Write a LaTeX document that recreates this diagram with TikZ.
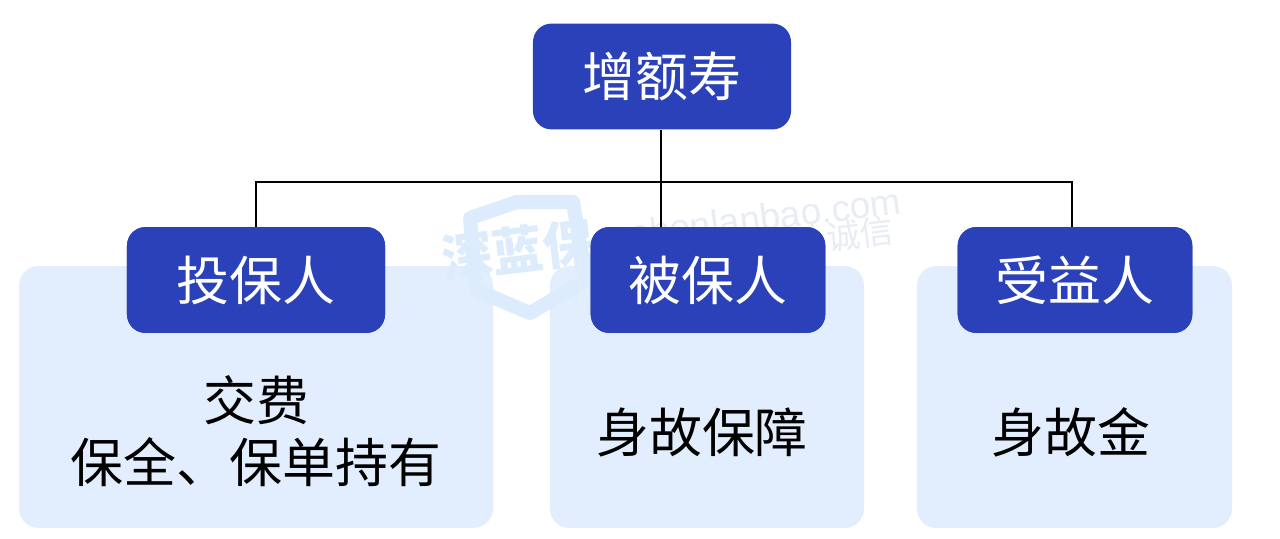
\documentclass[tikz,border=0pt]{standalone}
\usepackage{fontspec}
\setmainfont{Liberation Sans}
\newfontfamily\cjk{Noto Sans CJK SC}
\newfontfamily\cjkbold{Noto Sans CJK SC Medium}
\definecolor{roleblue}{HTML}{2A41B9}
\definecolor{panelblue}{HTML}{E2EEFD}
\definecolor{markblue}{HTML}{DCECFD}
\definecolor{markgray}{HTML}{E8ECF3}
\tikzset{
    rolebox/.style={fill=roleblue, rounded corners=10.5pt, text=white, font=\cjk\fontsize{30}{36}\selectfont, inner sep=0pt, minimum height=60pt},
    panel/.style={fill=panelblue, rounded corners=11pt, inner sep=0pt, minimum height=148.5pt},
    paneltext/.style={align=center, font=\cjk\fontsize{30}{35}\selectfont, text=black},
    link/.style={draw=black, line width=1.5pt},
    markshield/.style={draw=markblue, line width=8pt, line join=round},
    marktext/.style={rotate=7, text=markgray, inner sep=0pt}
}
\begin{document}
\begin{tikzpicture}[x=0.5669pt, y=-0.5669pt]
    \useasboundingbox (0, 0) rectangle (1280, 538);
    \fill[white] (0, 0) rectangle (1280, 538);
    % panels
    \node[panel, minimum width=268.7pt] (PanelA) at (256, 397) {};
    \node[panel, minimum width=178pt] (PanelB) at (707, 397) {};
    \node[panel, minimum width=178.6pt] (PanelC) at (1074.5, 397) {};
    % watermark
    \draw[markshield] (470, 218) -- (517, 202) -- (573, 202) -- (586, 280) -- (530, 313) -- (476, 290) -- cycle;
    \node[marktext, font=\cjk\bfseries\fontsize{29}{29}\selectfont, text=markblue] (MarkLogo) at (518, 250) {深蓝保};
    \node[marktext, font=\fontsize{21}{21}\selectfont] (MarkSite) at (766, 217) {shenlanbao.com};
    \node[marktext, font=\cjk\fontsize{19}{19}\selectfont] (MarkWords) at (770, 248) {中立 | 专业 | 诚信};
    % connectors
    \node[rolebox, minimum width=146.3pt] (Root) at (662, 76.5) {增额寿};
    \coordinate (Joint) at (661, 182);
    \coordinate (DropB) at (661, 227);
    \node[rolebox, minimum width=146.3pt] (RoleA) at (256, 280) {投保人};
    \node[rolebox, minimum width=133pt] (RoleB) at (708, 280) {被保人};
    \node[rolebox, minimum width=133pt] (RoleC) at (1075, 280) {受益人};
    \begin{scope}[on background layer/.try]
    \end{scope}
    \draw[link] (Root.south -| Joint) -- (DropB);
    \draw[link] (RoleA.north) |- (Joint) -| (RoleC.north -| 1072, 0);
    \node[rolebox, minimum width=146.3pt] at (RoleA) {投保人};
    \node[rolebox, minimum width=133pt] at (RoleB) {被保人};
    \node[rolebox, minimum width=133pt] at (RoleC) {受益人};
    % panel texts
    \node[paneltext] (TextA) at (256, 431) {交费\\保全、保单持有};
    \node[paneltext] (TextB) at (702, 432) {身故保障};
    \node[paneltext] (TextC) at (1071, 432) {身故金};
\end{tikzpicture}
\end{document}
